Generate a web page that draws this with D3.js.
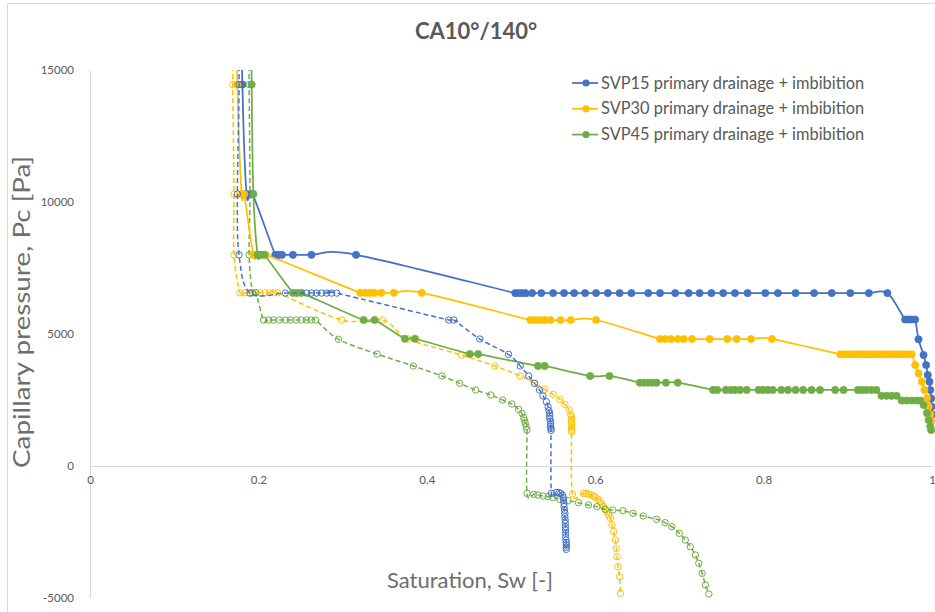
<!DOCTYPE html>
<html>
<head>
<meta charset="utf-8">
<script src="https://cdn.jsdelivr.net/npm/d3@7"></script>
<style>
  html, body { margin: 0; padding: 0; background: #fff; }
  svg { display: block; }
  text { font-family: Lato, "Open Sans", "Noto Sans", sans-serif; }
</style>
</head>
<body>
<div id="chart"></div>
<script>
// Capillary pressure curves: primary drainage (solid, filled markers)
// and imbibition (dashed, open markers) for three samples.

const xTicks = [0, 0.2, 0.4, 0.6, 0.8, 1];
const yTicks = [-5000, 0, 5000, 10000, 15000];

const legendLabels = [
  "SVP15 primary drainage + imbibition",
  "SVP30 primary drainage + imbibition",
  "SVP45 primary drainage + imbibition"
];

// [Sw, Pc] pairs
const svp15Drainage = [
  [0.179, 20000], [0.181, 14450], [0.186, 10300], [0.193, 10300],
  [0.220, 8000], [0.224, 8000], [0.228, 8000], [0.241, 8000], [0.263, 8000], [0.316, 8000],
  [0.505, 6550], [0.509, 6550], [0.513, 6550], [0.517, 6550], [0.525, 6550], [0.536, 6550],
  [0.550, 6550], [0.563, 6550], [0.575, 6550], [0.588, 6550], [0.601, 6550], [0.615, 6550],
  [0.629, 6550], [0.643, 6550], [0.663, 6550], [0.677, 6550], [0.695, 6550], [0.711, 6550],
  [0.724, 6550], [0.738, 6550], [0.752, 6550], [0.766, 6550], [0.781, 6550], [0.802, 6550],
  [0.817, 6550], [0.838, 6550], [0.860, 6550], [0.881, 6550], [0.903, 6550], [0.925, 6550],
  [0.947, 6550],
  [0.968, 5550], [0.972, 5550], [0.976, 5550], [0.980, 5550],
  [0.984, 4800], [0.990, 4205], [0.993, 3826], [0.995, 3447], [0.997, 3193],
  [0.998, 2880], [0.999, 2560], [0.9995, 2250], [1.0, 1950]
];

const svp15Imbibition = [
  [0.176, 20000], [0.177, 14450], [0.175, 10300], [0.177, 8000],
  [0.190, 6550], [0.232, 6550], [0.257, 6550], [0.263, 6550], [0.269, 6550], [0.275, 6550],
  [0.281, 6550], [0.287, 6550], [0.293, 6550],
  [0.426, 5530], [0.432, 5530], [0.463, 4810], [0.497, 4230], [0.511, 3788], [0.521, 3409],
  [0.528, 3131], [0.534, 2879], [0.538, 2652], [0.542, 2437], [0.544, 2247], [0.545, 2100],
  [0.546, 2000], [0.546, 1900], [0.546, 1800], [0.547, 1700], [0.547, 1600], [0.547, 1500],
  [0.5475, 1420], [0.5475, 1350],
  [0.548, -1035], [0.554, -1000], [0.557, -1010], [0.559, -1040], [0.561, -1100],
  [0.562, -1200], [0.5625, -1300], [0.563, -1420], [0.563, -1541], [0.5635, -1670],
  [0.564, -1793], [0.564, -1920], [0.5643, -2045], [0.5645, -2170], [0.5647, -2298],
  [0.5648, -2420], [0.565, -2550], [0.565, -2680], [0.5653, -2803], [0.5655, -2900],
  [0.5657, -2992], [0.5657, -3080], [0.5657, -3157]
];

const svp30Drainage = [
  [0.173, 20000], [0.175, 14450], [0.180, 10300], [0.183, 10300],
  [0.194, 8000], [0.199, 8000], [0.204, 8000], [0.209, 8000],
  [0.321, 6560], [0.327, 6560], [0.333, 6560], [0.338, 6560], [0.346, 6560], [0.361, 6560],
  [0.394, 6560],
  [0.523, 5530], [0.529, 5530], [0.534, 5530], [0.540, 5530], [0.547, 5530], [0.559, 5530],
  [0.571, 5530], [0.601, 5530],
  [0.677, 4810], [0.683, 4810], [0.690, 4810], [0.698, 4810], [0.705, 4810], [0.715, 4810],
  [0.736, 4810], [0.757, 4810], [0.768, 4810], [0.785, 4810], [0.810, 4810],
  [0.891, 4230], [0.895, 4230], [0.899, 4230], [0.903, 4230], [0.907, 4230], [0.911, 4230],
  [0.915, 4230], [0.919, 4230], [0.923, 4230], [0.927, 4230], [0.931, 4230], [0.935, 4230],
  [0.939, 4230], [0.943, 4230], [0.947, 4230], [0.951, 4230], [0.955, 4230], [0.959, 4230],
  [0.963, 4230], [0.967, 4230], [0.971, 4230], [0.976, 4230],
  [0.980, 3826], [0.984, 3510], [0.988, 3194], [0.991, 2879], [0.994, 2563],
  [0.996, 2250], [0.998, 1950], [0.999, 1700]
];

const svp30Imbibition = [
  [0.168, 20000], [0.1695, 14450], [0.171, 10300], [0.171, 8000],
  [0.178, 6560], [0.184, 6560], [0.190, 6560], [0.196, 6560], [0.202, 6560], [0.208, 6560],
  [0.213, 6560], [0.218, 6560], [0.223, 6560],
  [0.299, 5530], [0.348, 5530], [0.378, 4810], [0.441, 4205], [0.481, 3788], [0.511, 3409],
  [0.528, 3131], [0.540, 2904], [0.550, 2715], [0.558, 2525], [0.564, 2336], [0.569, 2121],
  [0.571, 1932], [0.572, 1850], [0.572, 1750], [0.572, 1660], [0.572, 1570], [0.572, 1480],
  [0.572, 1390], [0.572, 1300],
  [0.573, -1060], [0.586, -1035], [0.589, -1040], [0.592, -1060], [0.595, -1100],
  [0.598, -1140], [0.600, -1180], [0.603, -1260], [0.606, -1352], [0.608, -1450],
  [0.610, -1541], [0.612, -1640], [0.614, -1730], [0.616, -1860], [0.618, -1982],
  [0.620, -2235], [0.622, -2487], [0.624, -2803],
  [0.625, -3119], [0.626, -3434], [0.627, -3813], [0.629, -4192], [0.630, -4823]
];

const svp45Drainage = [
  [0.191, 20000], [0.192, 14450], [0.194, 10300],
  [0.199, 8000], [0.203, 8000], [0.207, 8000],
  [0.241, 6560], [0.246, 6560], [0.251, 6560],
  [0.325, 5530], [0.338, 5530], [0.374, 4820], [0.386, 4820], [0.451, 4240], [0.461, 4240],
  [0.532, 3790], [0.540, 3790], [0.594, 3410], [0.617, 3410],
  [0.653, 3157], [0.658, 3157], [0.663, 3157], [0.668, 3157], [0.673, 3157], [0.684, 3157],
  [0.698, 3157],
  [0.740, 2880], [0.745, 2880], [0.755, 2880], [0.761, 2880], [0.766, 2880], [0.772, 2880],
  [0.780, 2880], [0.794, 2880], [0.799, 2880], [0.805, 2880], [0.811, 2880], [0.821, 2880],
  [0.829, 2880], [0.838, 2880], [0.847, 2880], [0.857, 2880], [0.867, 2880], [0.885, 2880],
  [0.895, 2880], [0.912, 2880], [0.917, 2880], [0.922, 2880], [0.928, 2880], [0.934, 2880],
  [0.940, 2660], [0.946, 2660], [0.952, 2660], [0.958, 2660],
  [0.964, 2480], [0.970, 2480], [0.976, 2480], [0.982, 2480], [0.986, 2480],
  [0.990, 2310], [0.994, 2000], [0.996, 1740], [0.998, 1500], [0.999, 1364]
];

const svp45Imbibition = [
  [0.188, 20000], [0.189, 14450], [0.190, 10300], [0.189, 8000],
  [0.193, 6560], [0.197, 6560],
  [0.206, 5530], [0.212, 5530], [0.218, 5530], [0.225, 5530], [0.232, 5530], [0.238, 5530],
  [0.245, 5530], [0.251, 5530], [0.257, 5530], [0.263, 5530], [0.268, 5530],
  [0.295, 4800], [0.341, 4242], [0.384, 3788], [0.418, 3409], [0.439, 3131], [0.458, 2879],
  [0.476, 2689], [0.490, 2500], [0.501, 2348], [0.509, 2146], [0.513, 1996], [0.515, 1843],
  [0.516, 1730], [0.517, 1616], [0.518, 1490], [0.519, 1364],
  [0.519, -1035], [0.527, -1072], [0.532, -1098], [0.538, -1136], [0.544, -1162],
  [0.550, -1200], [0.558, -1262], [0.568, -1313], [0.580, -1389], [0.592, -1477],
  [0.602, -1541], [0.612, -1641], [0.621, -1667], [0.633, -1692], [0.645, -1793],
  [0.657, -1894], [0.673, -2020], [0.683, -2146], [0.691, -2298], [0.700, -2550],
  [0.707, -2803], [0.713, -3056], [0.719, -3371], [0.723, -3687], [0.727, -4066],
  [0.731, -4508], [0.735, -4848]
];

const colors = { svp15: "#4472C4", svp30: "#FFC000", svp45: "#70AD47" };

// drawing order (later on top)
const series = [
  { data: svp30Imbibition, color: colors.svp30, dashed: true },
  { data: svp45Imbibition, color: colors.svp45, dashed: true },
  { data: svp15Drainage, color: colors.svp15, dashed: false },
  { data: svp30Drainage, color: colors.svp30, dashed: false },
  { data: svp45Drainage, color: colors.svp45, dashed: false },
  { data: svp15Imbibition, color: colors.svp15, dashed: true }
];

const W = 935, H = 612;
const plot = { left: 90, right: 932, top: 70, bottom: 598 };

const svg = d3.select("#chart").append("svg")
  .attr("width", W).attr("height", H);

// chart frame
svg.append("rect")
  .attr("x", 7.5).attr("y", 3.5)
  .attr("width", W).attr("height", H)
  .attr("fill", "#fff").attr("stroke", "#d9d9d9");

const x = d3.scaleLinear().domain([0, 1]).range([plot.left, plot.right]);
const y = d3.scaleLinear().domain([-5000, 15000]).range([plot.bottom, plot.top]);

svg.append("defs").append("clipPath").attr("id", "plot-clip")
  .append("rect")
  .attr("x", plot.left - 10).attr("y", plot.top)
  .attr("width", plot.right - plot.left + 20)
  .attr("height", plot.bottom - plot.top + 10);

// axes
const yAxis = svg.append("g")
  .attr("transform", `translate(${plot.left},0)`)
  .call(d3.axisLeft(y).tickValues(yTicks).tickSize(0).tickSizeOuter(0).tickPadding(16)
    .tickFormat(d => String(d)));
const xAxis = svg.append("g")
  .attr("transform", `translate(0,${y(0)})`)
  .call(d3.axisBottom(x).tickValues(xTicks).tickSize(0).tickSizeOuter(0).tickPadding(10)
    .tickFormat(d => String(d)));
[yAxis, xAxis].forEach(g => {
  g.select(".domain").attr("stroke", "#d9d9d9").attr("stroke-width", 1.2);
  g.selectAll("text").attr("fill", "#595959").style("font-size", "11.5px")
    .style("font-family", "Lato, 'Open Sans', sans-serif");
});

// series: smoothed lines through every point
const line = d3.line()
  .x(d => x(d[0])).y(d => y(d[1]))
  .curve(d3.curveCatmullRom.alpha(0));

const marks = svg.append("g").attr("clip-path", "url(#plot-clip)");

series.forEach(s => {
  const g = marks.append("g");
  g.append("path")
    .datum(s.data)
    .attr("d", line)
    .attr("fill", "none")
    .attr("stroke", s.color)
    .attr("stroke-width", s.dashed ? 1.5 : 1.75)
    .attr("stroke-dasharray", s.dashed ? "5,3" : null);
  g.selectAll("circle")
    .data(s.data)
    .join("circle")
    .attr("cx", d => x(d[0]))
    .attr("cy", d => y(d[1]))
    .attr("r", s.dashed ? 3.2 : 3.6)
    .attr("fill", s.dashed ? "none" : s.color)
    .attr("stroke", s.color)
    .attr("stroke-width", s.dashed ? 1 : 0.75);
});

// title
svg.append("text")
  .attr("x", 476).attr("y", 39)
  .attr("text-anchor", "middle")
  .attr("fill", "#595959")
  .style("font-size", "22px").style("font-weight", "bold")
  .text("CA10°/140°");

// axis titles
svg.append("text")
  .attr("transform", `translate(30,312) rotate(-90)`)
  .attr("text-anchor", "middle")
  .attr("fill", "#6e6e6e")
  .attr("textLength", 312)
  .attr("lengthAdjust", "spacingAndGlyphs")
  .style("font-size", "24px")
  .text("Capillary pressure, Pc [Pa]");

svg.append("text")
  .attr("x", 470).attr("y", 588)
  .attr("text-anchor", "middle")
  .attr("fill", "#6e6e6e")
  .style("font-size", "22px")
  .text("Saturation, Sw [-]");

// legend
const legend = svg.append("g");
const legendColors = [colors.svp15, colors.svp30, colors.svp45];
legendLabels.forEach((label, i) => {
  const cy = 83 + i * 25.8;
  legend.append("line")
    .attr("x1", 572).attr("x2", 598).attr("y1", cy).attr("y2", cy)
    .attr("stroke", legendColors[i]).attr("stroke-width", 1.75);
  legend.append("circle")
    .attr("cx", 586).attr("cy", cy).attr("r", 3.6)
    .attr("fill", legendColors[i]);
  legend.append("text")
    .attr("x", 601).attr("y", cy + 5.5)
    .attr("fill", "#595959")
    .style("font-size", "16.4px")
    .text(label);
});
</script>
</body>
</html>
